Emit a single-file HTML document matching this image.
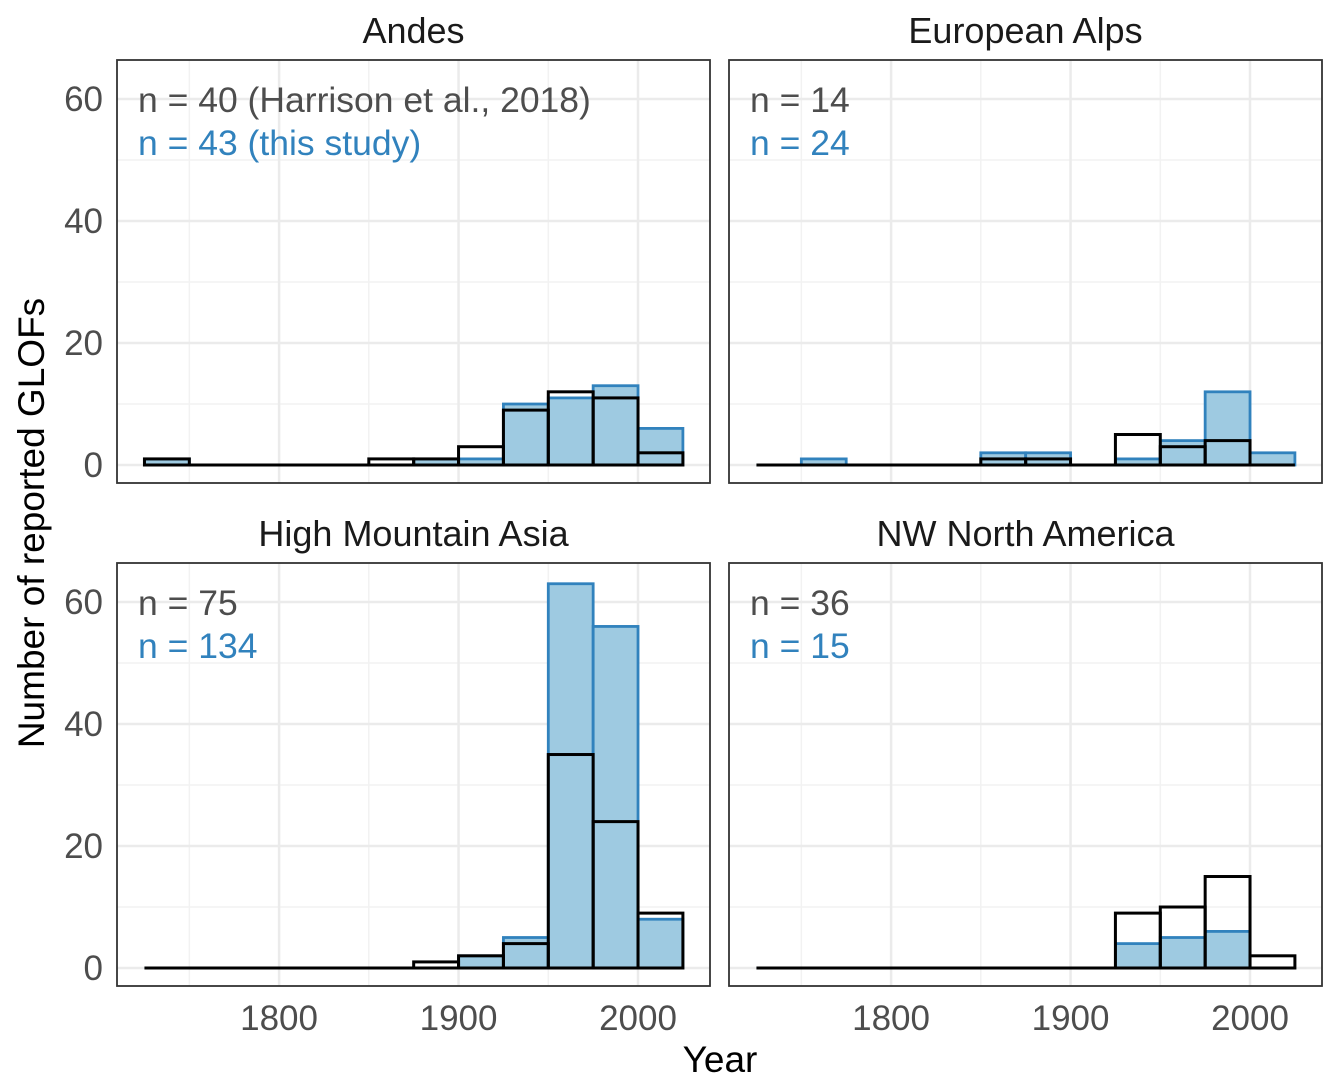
<!DOCTYPE html>
<html><head><meta charset="utf-8"><style>
body{margin:0;background:#fff;}
svg{display:block;font-family:"Liberation Sans",sans-serif;}
</style></head><body>
<svg id="chart" width="1340" height="1090"></svg>
<script>
const panelNames = ["Andes","European Alps","High Mountain Asia","NW North America"];
const binStarts = [1725,1750,1775,1800,1825,1850,1875,1900,1925,1950,1975,2000];
const thisStudy = [
  [1,0,0,0,0,0,1,1,10,11,13,6],
  [0,1,0,0,0,2,2,0,1,4,12,2],
  [0,0,0,0,0,0,0,2,5,63,56,8],
  [0,0,0,0,0,0,0,0,4,5,6,0]
];
const harrison = [
  [1,0,0,0,0,1,1,3,9,12,11,2],
  [0,0,0,0,0,1,1,0,5,3,4,0],
  [0,0,0,0,0,0,1,2,4,35,24,9],
  [0,0,0,0,0,0,0,0,9,10,15,2]
];
const nHarrisonLabels = ["n = 40 (Harrison et al., 2018)","n = 14","n = 75","n = 36"];
const nStudyLabels = ["n = 43 (this study)","n = 24","n = 134","n = 15"];
const yTicks = [0,20,40,60];
const yMinor = [10,30,50];
const xTicks = [1800,1900,2000];
const xMinor = [1750,1850,1950];
const binWidth = 25;

const NS="http://www.w3.org/2000/svg";
const svg=document.getElementById('chart');
function mk(tag,attrs,parent){const e=document.createElementNS(NS,tag);for(const k in attrs)e.setAttribute(k,attrs[k]);(parent||svg).appendChild(e);return e;}

const panels=[{x:117,y:60},{x:729,y:60},{x:117,y:563},{x:729,y:563}];
const PW=593,PH=423;
const yMin=-2.95,yMax=66.4,xMin=1709.7,xMax=2040.1;

panels.forEach((p,i)=>{
  const g=mk('g',{});
  
  
  const X=v=>p.x+(v-xMin)/(xMax-xMin)*PW;
  const Y=v=>p.y+PH-(v-yMin)/(yMax-yMin)*PH;
  const t=mk('text',{x:p.x+PW/2,y:p.y-17,'text-anchor':'middle','font-size':36,fill:'#1a1a1a'},g);
  t.textContent=panelNames[i];
  
  
  yMinor.forEach(v=>mk('line',{x1:p.x,x2:p.x+PW,y1:Y(v),y2:Y(v),stroke:'#f2f2f2','stroke-width':1.5},g));
  xMinor.forEach(v=>mk('line',{x1:X(v),x2:X(v),y1:p.y,y2:p.y+PH,stroke:'#f2f2f2','stroke-width':1.5},g));
  yTicks.forEach(v=>mk('line',{x1:p.x,x2:p.x+PW,y1:Y(v),y2:Y(v),stroke:'#ebebeb','stroke-width':2.5},g));
  xTicks.forEach(v=>mk('line',{x1:X(v),x2:X(v),y1:p.y,y2:p.y+PH,stroke:'#ebebeb','stroke-width':2.5},g));
  const x0=X(binStarts[0]), x1=X(binStarts[binStarts.length-1]+binWidth);
  binStarts.forEach((b,j)=>{
    const v=thisStudy[i][j];
    const r=mk('rect',{x:X(b),y:Y(v),width:X(b+binWidth)-X(b),height:Y(0)-Y(v),fill:'#9ecae1',stroke:'#3182bd','stroke-width':2.8},g);
    
    
  });
  mk('line',{x1:x0,x2:x1,y1:Y(0),y2:Y(0),stroke:'#3182bd','stroke-width':2.8},g);
  mk('line',{x1:x0,x2:x1,y1:Y(0),y2:Y(0),stroke:'#000','stroke-width':3},g);
  binStarts.forEach((b,j)=>{
    const v=harrison[i][j];
    const r=mk('rect',{x:X(b),y:Y(v),width:X(b+binWidth)-X(b),height:Y(0)-Y(v),fill:'none',stroke:'#000','stroke-width':3},g);
    
    
  });
  mk('rect',{x:p.x,y:p.y,width:PW,height:PH,fill:'none',stroke:'#333','stroke-width':1.8},g);
  const a1=mk('text',{x:p.x+21,y:p.y+52,'font-size':35.5,fill:'#4d4d4d'},g);
  a1.textContent=nHarrisonLabels[i];
  
  
  const a2=mk('text',{x:p.x+21,y:p.y+95,'font-size':35.5,fill:'#3182bd'},g);
  a2.textContent=nStudyLabels[i];
  
  
  if(i%2===0){
    yTicks.forEach(v=>{const tt=mk('text',{x:p.x-14,y:Y(v)+12,'text-anchor':'end','font-size':35,fill:'#4d4d4d'},g);tt.textContent=v;
      
      });
  }
  if(i>=2){
    xTicks.forEach(v=>{const tt=mk('text',{x:X(v),y:p.y+PH+44,'text-anchor':'middle','font-size':35,fill:'#4d4d4d'},g);tt.textContent=v;
      
      });
  }
});
const xt=mk('text',{x:720,y:1072,'text-anchor':'middle','font-size':37,fill:'#000'});
xt.textContent='Year';


const yt=mk('text',{x:0,y:0,'text-anchor':'middle','font-size':37,fill:'#000',transform:'translate(44,523) rotate(-90)'});
yt.textContent='Number of reported GLOFs';


</script>
</body></html>
